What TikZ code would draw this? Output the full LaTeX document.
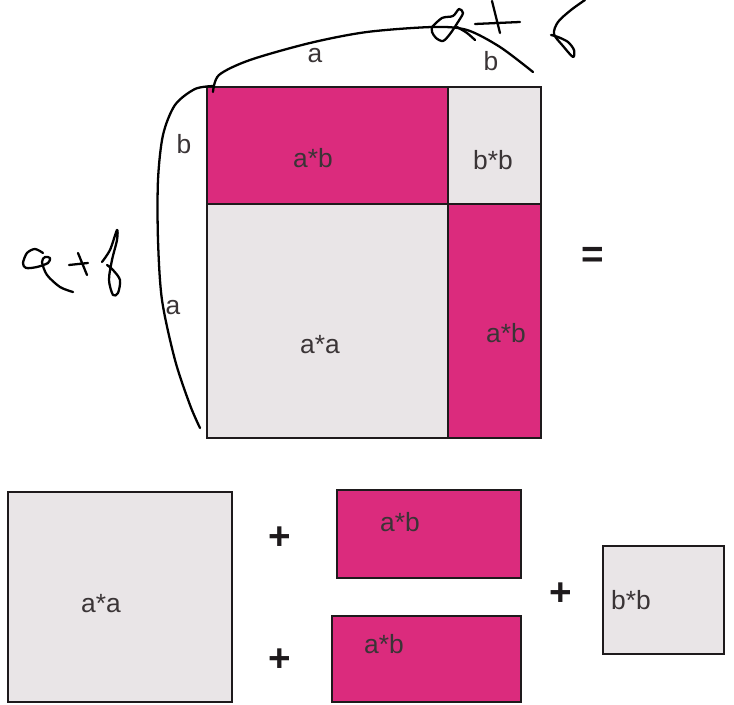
\documentclass[tikz,border=0pt]{standalone}
\usepackage{fontspec}
\setmainfont{Liberation Sans}
\usetikzlibrary{positioning}
\definecolor{Magenta}{HTML}{DB2B7D}
\definecolor{Pale}{HTML}{E9E5E7}
\definecolor{Edge}{HTML}{1E1A1C}
\definecolor{Label}{HTML}{3A3436}

\begin{document}
\begin{tikzpicture}[x=0.02cm,y=-0.02cm,
    tile/.style={draw=Edge,line width=1.1pt},
    lbl/.style={font=\fontsize{15}{17}\selectfont,text=Label,inner sep=0pt},
    op/.style={font=\fontsize{22}{24}\selectfont\bfseries,text=Edge,inner sep=0pt},
    hand/.style={line width=1.3pt,line cap=round,line join=round}]
  \useasboundingbox (0,0) rectangle (734,705);
  % the whole square, cut in four
  \foreach \xa/\ya/\xb/\yb/\col in {
    207/87/448/204/Magenta,
    448/87/541/204/Pale,
    207/204/448/438/Pale,
    448/204/541/438/Magenta}{
    \fill[\col] (\xa,\ya) rectangle (\xb,\yb);
  }
  \draw[tile] (207,87) rectangle (541,438);
  \draw[tile] (448,87) -- (448,438) (207,204) -- (541,204);
  \node[lbl] (topab) at (313,158) {a*b};
  \node[lbl] (topbb) at (493,160) {b*b};
  \node[lbl] (topaa) at (320,345) {a*a};
  \node[lbl] (sideab) at (506,333) {a*b};
  \node[lbl] (sidea) at (315,56) {a};
  \node[lbl] (sideb) at (491,61) {b};
  \node[lbl] (leftb) at (184,144) {b};
  \node[lbl] (lefta) at (173,308) {a};
  \node[op] (equals) at (593,257) {=};
  % the four pieces laid apart
  \foreach \xa/\ya/\xb/\yb/\col in {
    8/492/232/702/Pale,
    337/490/521/578/Magenta,
    332/616/521/702/Magenta,
    603/546/724/654/Pale}{
    \fill[\col] (\xa,\ya) rectangle (\xb,\yb);
    \draw[tile] (\xa,\ya) rectangle (\xb,\yb);
  }
  \node[lbl] (lowaa) at (101,604) {a*a};
  \node[lbl] (lowab) at (400,522) {a*b};
  \node[lbl] (lowba) at (384,644) {a*b};
  \node[lbl] (lowbb) at (631,600) {b*b};
  \node[op] (plusa) at (280,538) {+};
  \node[op] (plusb) at (280,660) {+};
  \node[op] (plusc) at (561,594) {+};
  % pen marks
  \draw[hand] plot[smooth] coordinates {(213,92) (219,75) (250,60) (310,43) (367,32) (433,27) (467,30) (500,47) (533,72)};
  \draw[hand] plot[smooth] coordinates {(214,86) (195,89) (175,105) (163,135) (158,180) (158,240) (162,300) (175,360) (190,405) (200,428)};
  \draw[hand] plot[smooth] coordinates {(432,27) (442,18) (453,16) (459,9) (463,13) (458,22) (450,34) (443,41) (436,38) (432,32) (432,27)};
  \draw[hand] plot[smooth] coordinates {(457,27) (467,33) (475,40)};
  \draw[hand] (475,24) -- (520,22) (492,1) -- (500,33);
  \draw[hand] plot[smooth] coordinates {(585,0) (571,10) (558,22) (554,34) (563,46) (573,57) (574,50) (568,42) (558,37) (551,35)};
  \draw[hand] plot[smooth] coordinates {(43,253) (35,249) (27,253) (23,263) (26,268) (37,267) (48,263) (50,258) (45,257) (42,262) (47,275) (60,287) (73,292)};
  \draw[hand] (69,265) -- (88,263) (78,253) -- (87,275);
  \draw[hand] plot[smooth] coordinates {(102,262) (110,250) (117,230) (117,240) (112,260) (109,280) (113,295) (118,293) (120,280) (113,270) (107,265)};
\end{tikzpicture}
\end{document}
